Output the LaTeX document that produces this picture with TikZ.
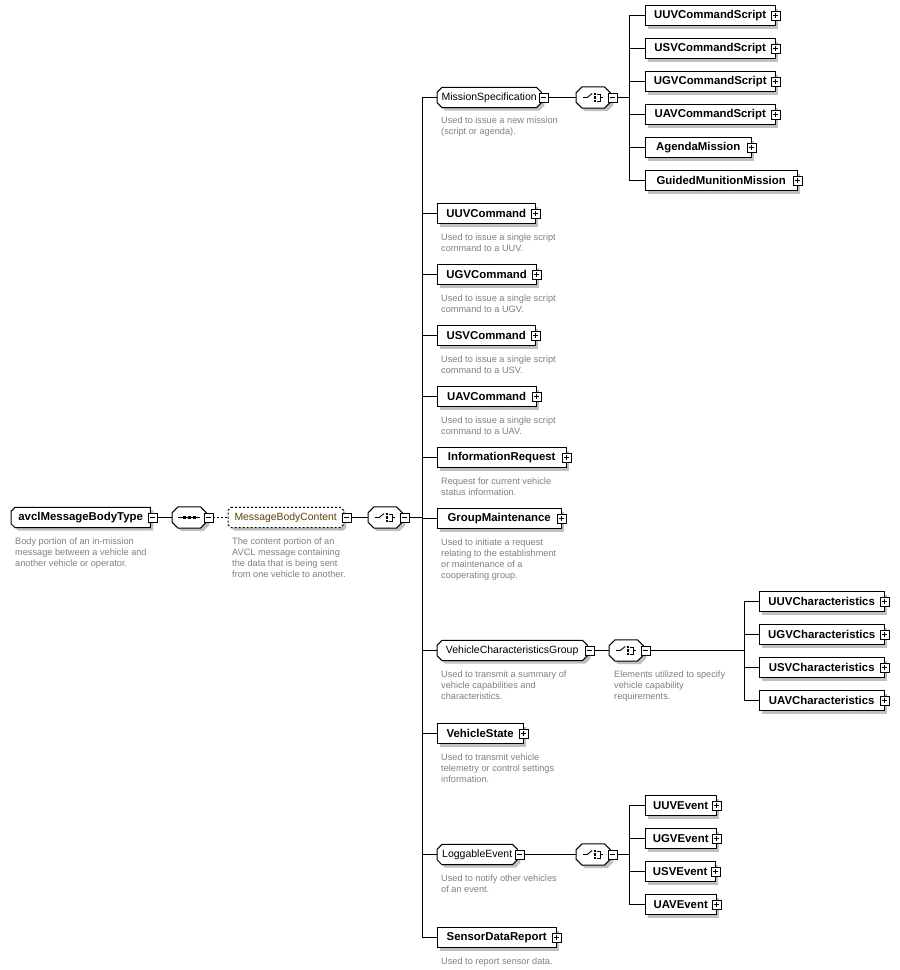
\documentclass[tikz,border=0pt]{standalone}
\usepackage{fontspec}
\setmainfont{Liberation Sans}
\usetikzlibrary{shadows,calc,backgrounds}
\definecolor{mbctext}{RGB}{96,62,8}
\definecolor{desctext}{RGB}{128,128,128}
\definecolor{shadowgray}{RGB}{192,192,192}
% octagonal outline with shadow drawn behind a bare node
% #1 node name, #2 left chamfer, #3 right chamfer, #4 extra draw options
\newcommand{\octbox}[4]{%
\begin{pgfonlayer}{background}
\fill[shadowgray,transform canvas={shift={(3pt,-3pt)}}]
  ([xshift=#2]#1.north west) -- ([xshift=-#3]#1.north east) -- ([yshift=-#3]#1.north east)
  -- ([yshift=#3]#1.south east) -- ([xshift=-#3]#1.south east) -- ([xshift=#2]#1.south west)
  -- ([yshift=#2]#1.south west) -- ([yshift=-#2]#1.north west) -- cycle;
\draw[draw=black,line width=1pt,fill=white,#4]
  ([xshift=#2]#1.north west) -- ([xshift=-#3]#1.north east) -- ([yshift=-#3]#1.north east)
  -- ([yshift=#3]#1.south east) -- ([xshift=-#3]#1.south east) -- ([xshift=#2]#1.south west)
  -- ([yshift=#2]#1.south west) -- ([yshift=-#2]#1.north west) -- cycle;
\end{pgfonlayer}}
\begin{document}
\begin{tikzpicture}[x=1pt,y=-1pt,line width=1pt,
  shd/.style={drop shadow={shadow xshift=3pt,shadow yshift=-3pt,fill=shadowgray,opacity=1}},
  elem/.style={draw=black,fill=white,shd,anchor=west,minimum width=#1,minimum height=20pt,inner sep=0pt,
    font=\fontsize{11.4}{13}\selectfont\bfseries},
  bare/.style={anchor=west,minimum width=#1,minimum height=20pt,inner sep=0pt},
  grp/.style={bare=#1,font=\fontsize{10.5}{12}\selectfont},
  rootbox/.style={bare=139pt,font=\fontsize{11.4}{13}\selectfont\bfseries},
  mbcbox/.style={bare=115pt,font=\fontsize{10.4}{12}\selectfont,text=mbctext},
  comp/.style={anchor=west,minimum width=34pt,minimum height=21pt,inner sep=0pt},
  pmbox/.style={draw=black,fill=white,minimum size=9pt,inner sep=0pt,line width=0.8pt},
  minus/.style={pmbox,path picture={\draw[line width=0.8pt] ([xshift=2pt]path picture bounding box.west) -- ([xshift=-2pt]path picture bounding box.east);}},
  plus/.style={pmbox,path picture={\draw[line width=0.8pt] ([xshift=2pt]path picture bounding box.west) -- ([xshift=-2pt]path picture bounding box.east);
      \draw[line width=0.8pt] ([yshift=-2pt]path picture bounding box.north) -- ([yshift=2pt]path picture bounding box.south);}},
  desc/.style={anchor=north west,inner sep=0pt,align=left,text=desctext,font=\fontsize{9.2}{11}\selectfont},
  dashline/.style={dash pattern=on 2pt off 2pt}
]
\begin{pgfonlayer}{background}
\path[fill=white] (0,0) rectangle (900,970);
\end{pgfonlayer}
\useasboundingbox (0,0) rectangle (900,970);

% root and first level
\node[rootbox] (root) at (11,517.5) {avclMessageBodyType};
\octbox{root}{4pt}{0pt}{}
\node[minus] (root-m) at ([xshift=2pt]root.east) {};
\node[desc] (d-root) at (15,537.5) {Body portion of an in-mission\\message between a vehicle and\\another vehicle or operator.};
\node[comp] (seq) at (172,517.5) {};
\octbox{seq}{6pt}{6pt}{}
\node[minus] (seq-m) at ([xshift=2pt]seq.east) {};
\node[mbcbox] (mbc) at (228,517.5) {MessageBodyContent};
\octbox{mbc}{3pt}{3pt}{dashline}
\node[minus] (mbc-m) at ([xshift=3pt]mbc.east) {};
\node[desc] (d-mbc) at (232,537.5) {The content portion of an\\AVCL message containing\\the data that is being sent\\from one vehicle to another.};
\node[comp] (ch1) at (368,517.5) {};
\octbox{ch1}{6pt}{6pt}{}
\node[minus] (ch1-m) at ([xshift=2pt]ch1.east) {};
\coordinate (bus1) at (422,517.5);

% children of main choice
\node[grp=104pt] (ms) at (437,97.5) {MissionSpecification};
\octbox{ms}{5pt}{5pt}{}
\node[minus] (ms-m) at ([xshift=2pt]ms.east) {};
\node[desc] (d-ms) at (441,116.5) {Used to issue a new mission\\(script or agenda).};
\node[comp] (ch2) at (576,97.5) {};
\octbox{ch2}{6pt}{6pt}{}
\node[minus] (ch2-m) at ([xshift=2pt]ch2.east) {};
\coordinate (bus2) at (629,97.5);

\node[elem=130pt] (ucs) at (645,15.5) {UUVCommandScript};
\node[plus] (ucs-p) at (ucs.east) {};
\node[elem=130pt] (scs) at (645,48.5) {USVCommandScript};
\node[plus] (scs-p) at (scs.east) {};
\node[elem=130pt] (gcs) at (645,81.5) {UGVCommandScript};
\node[plus] (gcs-p) at (gcs.east) {};
\node[elem=130pt] (acs) at (645,114.5) {UAVCommandScript};
\node[plus] (acs-p) at (acs.east) {};
\node[elem=106pt] (am) at (645,147.5) {AgendaMission};
\node[plus] (am-p) at (am.east) {};
\node[elem=152pt] (gmm) at (645,180.5) {GuidedMunitionMission};
\node[plus] (gmm-p) at (gmm.east) {};

\node[elem=98pt] (uuvc) at (437,213.5) {UUVCommand};
\node[plus] (uuvc-p) at (uuvc.east) {};
\node[desc] (d-uuvc) at (441,233.5) {Used to issue a single script\\command to a UUV.};
\node[elem=99pt] (ugvc) at (437,274.5) {UGVCommand};
\node[plus] (ugvc-p) at (ugvc.east) {};
\node[desc] (d-ugvc) at (441,294.5) {Used to issue a single script\\command to a UGV.};
\node[elem=98pt] (usvc) at (437,335.5) {USVCommand};
\node[plus] (usvc-p) at (usvc.east) {};
\node[desc] (d-usvc) at (441,355.5) {Used to issue a single script\\command to a USV.};
\node[elem=99pt] (uavc) at (437,396.5) {UAVCommand};
\node[plus] (uavc-p) at (uavc.east) {};
\node[desc] (d-uavc) at (441,416.5) {Used to issue a single script\\command to a UAV.};
\node[elem=129pt] (ir) at (437,457.5) {InformationRequest};
\node[plus] (ir-p) at (ir.east) {};
\node[desc] (d-ir) at (441,477.5) {Request for current vehicle\\status information.};
\node[elem=124pt] (gm) at (437,518.5) {GroupMaintenance};
\node[plus] (gm-p) at (gm.east) {};
\node[desc] (d-gm) at (441,538.5) {Used to initiate a request\\relating to the establishment\\or maintenance of a\\cooperating group.};

\node[grp=150pt] (vcg) at (437,650.5) {VehicleCharacteristicsGroup};
\octbox{vcg}{5pt}{5pt}{}
\node[minus] (vcg-m) at ([xshift=2pt]vcg.east) {};
\node[desc] (d-vcg) at (441,670.5) {Used to transmit a summary of\\vehicle capabilities and\\characteristics.};
\node[comp] (ch3) at (609,650.5) {};
\octbox{ch3}{6pt}{6pt}{}
\node[minus] (ch3-m) at ([xshift=2pt]ch3.east) {};
\node[desc] (d-ch3) at (614,670.5) {Elements utilized to specify\\vehicle capability\\requirements.};
\coordinate (bus3) at (744,650.5);
\node[elem=125pt] (uuvch) at (759,601.5) {UUVCharacteristics};
\node[plus] (uuvch-p) at (uuvch.east) {};
\node[elem=125pt] (ugvch) at (759,634.5) {UGVCharacteristics};
\node[plus] (ugvch-p) at (ugvch.east) {};
\node[elem=125pt] (usvch) at (759,667.5) {USVCharacteristics};
\node[plus] (usvch-p) at (usvch.east) {};
\node[elem=125pt] (uavch) at (759,700.5) {UAVCharacteristics};
\node[plus] (uavch-p) at (uavch.east) {};

\node[elem=86pt] (vs) at (437,733.5) {VehicleState};
\node[plus] (vs-p) at (vs.east) {};
\node[desc] (d-vs) at (441,753.5) {Used to transmit vehicle\\telemetry or control settings\\information.};

\node[grp=80pt] (le) at (437,854.5) {LoggableEvent};
\octbox{le}{5pt}{5pt}{}
\node[minus] (le-m) at ([xshift=2pt]le.east) {};
\node[desc] (d-le) at (441,874.5) {Used to notify other vehicles\\of an event.};
\node[comp] (ch4) at (576,854.5) {};
\octbox{ch4}{6pt}{6pt}{}
\node[minus] (ch4-m) at ([xshift=2pt]ch4.east) {};
\coordinate (bus4) at (629,854.5);
\node[elem=71pt] (uuve) at (645,805.5) {UUVEvent};
\node[plus] (uuve-p) at (uuve.east) {};
\node[elem=71pt] (ugve) at (645,838.5) {UGVEvent};
\node[plus] (ugve-p) at (ugve.east) {};
\node[elem=70pt] (usve) at (645,871.5) {USVEvent};
\node[plus] (usve-p) at (usve.east) {};
\node[elem=71pt] (uave) at (645,904.5) {UAVEvent};
\node[plus] (uave-p) at (uave.east) {};

\node[elem=119pt] (sdr) at (437,937.5) {SensorDataReport};
\node[plus] (sdr-p) at (sdr.east) {};
\node[desc] (d-sdr) at (441,957.5) {Used to report sensor data.};

% connectors
\draw (root-m.east) -- (seq.west);
\draw[dashline] (seq-m.east) -- (mbc.west);
\draw (mbc-m.east) -- (ch1.west);
\draw (ch1-m.east) -- (bus1);
\draw (bus1 |- ms.west) -- (bus1 |- sdr.west);
\foreach \n in {ms,uuvc,ugvc,usvc,uavc,ir,gm,vcg,vs,le,sdr}
  \draw (bus1 |- \n.west) -- (\n.west);

\draw (ms-m.east) -- (ch2.west);
\draw (ch2-m.east) -- (bus2);
\draw (bus2 |- ucs.west) -- (bus2 |- gmm.west);
\foreach \n in {ucs,scs,gcs,acs,am,gmm}
  \draw (bus2 |- \n.west) -- (\n.west);

\draw (vcg-m.east) -- (ch3.west);
\draw (ch3-m.east) -- (bus3);
\draw (bus3 |- uuvch.west) -- (bus3 |- uavch.west);
\foreach \n in {uuvch,ugvch,usvch,uavch}
  \draw (bus3 |- \n.west) -- (\n.west);

\draw (le-m.east) -- (ch4.west);
\draw (ch4-m.east) -- (bus4);
\draw (bus4 |- uuve.west) -- (bus4 |- uave.west);
\foreach \n in {uuve,ugve,usve,uave}
  \draw (bus4 |- \n.west) -- (\n.west);

% compositor icons
\draw[line width=0.9pt] ([xshift=-11pt]seq.center) -- ([xshift=11pt]seq.center);
\foreach \dx in {-5,0,5}
  \fill ([shift={(\dx pt,0pt)}]seq.center) ++(-1.5pt,-1.5pt) rectangle ++(3pt,3pt);
\foreach \c in {ch1,ch2,ch3,ch4}{
  \draw[line width=0.9pt] ([xshift=-10pt]\c.center) -- ++(4pt,0pt) -- ++(5pt,4pt);
  \foreach \dy in {3.5,0,-3.5}
    \fill ([shift={(0.5pt,\dy pt)}]\c.center) ++(0pt,-1.1pt) rectangle ++(2.4pt,2.2pt);
  \draw[line width=0.9pt] ([shift={(4pt,3.5pt)}]\c.center) -- ++(3pt,0pt) -- ++(0pt,-7pt) -- ++(-3pt,0pt);
  \draw[line width=0.9pt] ([shift={(7pt,0pt)}]\c.center) -- ++(3pt,0pt);
}
\end{tikzpicture}
\end{document}
